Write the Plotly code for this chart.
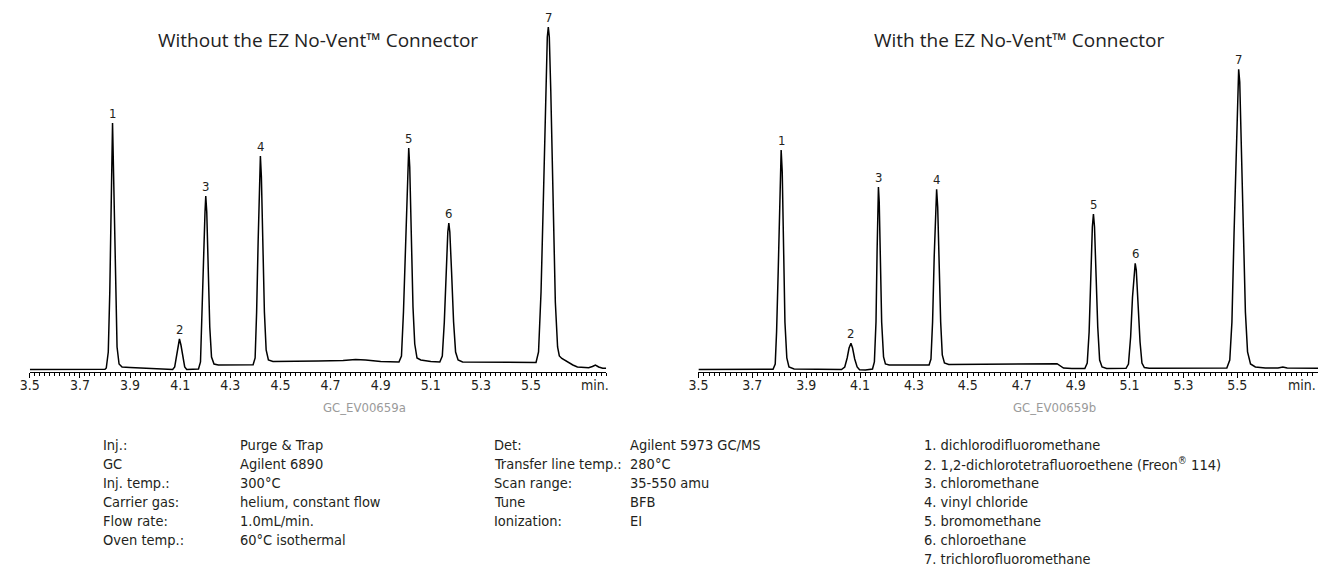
import plotly.graph_objects as go

# ---------------- data ----------------
# retention time (min) / detector signal (arbitrary units)
time_without = [3.500, 3.600, 3.700, 3.800,
    3.805, 3.813, 3.819, 3.824, 3.828, 3.830, 3.832, 3.837, 3.842, 3.848, 3.856, 3.868,
    3.900, 3.950, 4.000, 4.050, 4.070,
    4.078, 4.084, 4.090, 4.097, 4.103, 4.110, 4.118, 4.126, 4.150, 4.173,
    4.181, 4.187, 4.193, 4.199, 4.202, 4.206, 4.212, 4.218, 4.225, 4.235, 4.252,
    4.300, 4.350, 4.391,
    4.399, 4.405, 4.411, 4.417, 4.420, 4.424, 4.430, 4.436, 4.443, 4.452, 4.470,
    4.550, 4.650, 4.750, 4.800, 4.840, 4.900, 4.973,
    4.983, 4.991, 4.999, 5.007, 5.012, 5.016, 5.022, 5.029, 5.036, 5.045, 5.060, 5.100, 5.136,
    5.146, 5.154, 5.161, 5.168, 5.172, 5.176, 5.183, 5.191, 5.199, 5.209, 5.227,
    5.300, 5.400, 5.480, 5.520,
    5.530, 5.540, 5.550, 5.559, 5.565, 5.569, 5.573, 5.579, 5.588, 5.597, 5.606, 5.613,
    5.623, 5.639, 5.655, 5.667, 5.685, 5.706, 5.730, 5.745, 5.757, 5.770, 5.786, 5.800]
signal_without = [2.5, 2.5, 2.5, 2.8,
    4, 20, 80, 160, 220, 249, 225, 160, 80, 25, 8, 5,
    4.5, 4, 3.5, 2.8, 2.5,
    5, 14, 26, 33, 27, 15, 5, 2.5, 2.5, 3,
    10, 50, 110, 160, 176, 160, 100, 45, 15, 8, 7,
    7, 7, 7.2,
    14, 60, 130, 195, 216, 195, 130, 60, 22, 12, 10.5,
    11, 11, 11.5, 12.5, 12, 10.5, 10,
    16, 60, 130, 200, 224, 205, 135, 65, 28, 14, 12, 10.5, 10,
    16, 50, 100, 140, 149, 140, 100, 50, 20, 12, 10,
    9.8, 9.7, 9.5, 9.5,
    20, 80, 180, 290, 335, 345, 335, 280, 170, 70, 25, 16,
    13.5, 11, 8.5, 7, 5, 4.5, 4.3, 5.5, 7, 5, 3.7, 3.7]

time_with = [3.500, 3.600, 3.700, 3.777,
    3.785, 3.790, 3.796, 3.802, 3.807, 3.811, 3.816, 3.821, 3.828, 3.836, 3.855, 3.950, 4.031,
    4.043, 4.052, 4.059, 4.066, 4.072, 4.080, 4.089, 4.098, 4.120, 4.146,
    4.153, 4.159, 4.163, 4.166, 4.168, 4.171, 4.176, 4.180, 4.187, 4.194, 4.208, 4.300, 4.356,
    4.363, 4.369, 4.375, 4.380, 4.384, 4.388, 4.393, 4.399, 4.405, 4.413, 4.429,
    4.550, 4.650, 4.750, 4.800, 4.831, 4.855, 4.886, 4.934,
    4.943, 4.950, 4.956, 4.962, 4.966, 4.970, 4.976, 4.982, 4.989, 4.998, 5.015, 5.087,
    5.096, 5.104, 5.111, 5.118, 5.121, 5.125, 5.131, 5.139, 5.146, 5.155, 5.173,
    5.300, 5.400, 5.461,
    5.472, 5.480, 5.488, 5.498, 5.502, 5.505, 5.509, 5.514, 5.522, 5.530, 5.538, 5.549,
    5.567, 5.604, 5.651, 5.669, 5.685, 5.733, 5.7995]
signal_with = [2.5, 2.5, 2.5, 2.8,
    8, 40, 100, 180, 222, 200, 120, 50, 14, 5, 3, 2.8, 2.5,
    5, 14, 24, 28.7, 24, 13, 5, 2.2, 2, 3,
    10, 50, 120, 170, 185, 170, 110, 50, 15, 8, 7, 7, 7,
    13, 50, 115, 165, 182.7, 165, 110, 50, 17, 9, 7.5,
    7.7, 8, 8.3, 8.5, 8.3, 4, 3.5, 3.5,
    9, 40, 95, 145, 158, 145, 95, 45, 12, 5, 3.6, 3.7,
    8, 35, 75, 103, 108.7, 102, 70, 30, 9, 4.5, 3.7,
    3.7, 3.8, 4,
    12, 50, 140, 250, 290, 302.7, 290, 240, 150, 60, 20, 8,
    5, 4, 4, 5, 4, 3.7, 3.7]

peak_labels = ["1", "2", "3", "4", "5", "6", "7"]
peak_rt_without = [3.830, 4.097, 4.202, 4.420, 5.012, 5.172, 5.569]
peak_rt_with = [3.807, 4.066, 4.168, 4.384, 4.966, 5.121, 5.505]

tick_values = [3.5, 3.7, 3.9, 4.1, 4.3, 4.5, 4.7, 4.9, 5.1, 5.3, 5.5]
tick_labels = ["3.5", "3.7", "3.9", "4.1", "4.3", "4.5", "4.7", "4.9", "5.1", "5.3", "5.5"]
unit_label = "min."

title_without = "Without the EZ No-Vent™ Connector"
title_with = "With the EZ No-Vent™ Connector"
code_without = "GC_EV00659a"
code_with = "GC_EV00659b"

cond1_labels = ["Inj.:", "GC", "Inj. temp.:", "Carrier gas:", "Flow rate:", "Oven temp.:"]
cond1_values = ["Purge &amp; Trap", "Agilent 6890", "300°C", "helium, constant flow",
                "1.0mL/min.", "60°C isothermal"]
cond2_labels = ["Det:", "Transfer line temp.:", "Scan range:", "Tune", "Ionization:"]
cond2_values = ["Agilent 5973 GC/MS", "280°C", "35-550 amu", "BFB", "EI"]
compounds = ["dichlorodifluoromethane",
             "1,2-dichlorotetrafluoroethene (Freon<sup>®</sup> 114)",
             "chloromethane", "vinyl chloride", "bromomethane",
             "chloroethane", "trichlorofluoromethane"]

# ---------------- figure ----------------
W, H = 1318, 571
COND = "'Liberation Sans Narrow', 'DejaVu Sans Condensed', 'Arial Narrow', sans-serif"
TITLEF = "'Open Sans', 'Noto Sans', sans-serif"
INK = "#231f20"

fig = go.Figure()
fig.add_trace(go.Scatter(x=time_without, y=signal_without, mode="lines",
                         line=dict(color="black", width=1.5), xaxis="x", yaxis="y",
                         hoverinfo="skip"))
fig.add_trace(go.Scatter(x=time_with, y=signal_with, mode="lines",
                         line=dict(color="black", width=1.5), xaxis="x2", yaxis="y2",
                         hoverinfo="skip"))

def px_x(p):
    return p / W

def px_y(p):
    return 1 - p / H

axis_bottom = 372
axis_top = 20
ydom = [px_y(axis_bottom), px_y(axis_top)]
yrange = [0, axis_bottom - axis_top]

xcommon = dict(showline=True, linecolor="black", linewidth=1.2, showgrid=False,
               zeroline=False, tickmode="array", tickvals=tick_values, ticktext=tick_labels,
               ticks="outside", ticklen=4.5, tickwidth=1.1, tickcolor="black",
               ticklabelstandoff=-4,
               tickfont=dict(family=COND, size=14, color=INK),
               minor=dict(dtick=0.02, tick0=3.5, ticks="outside", ticklen=2.5,
                          tickwidth=1, tickcolor="black"),
               fixedrange=True)
xtenths = dict(showline=False, showgrid=False, zeroline=False, tickmode="linear",
               tick0=3.5, dtick=0.1, ticks="outside", ticklen=4.5, tickwidth=1.1,
               tickcolor="black", showticklabels=False, fixedrange=True)

left_px = 20
left_scale = 252.5
right_px = 693.7
right_scale = 271.5
xr_left = [3.5, 5.8]
xr_right = [3.5, 3.5 + (W - right_px) / right_scale]

fig.update_layout(
    width=W, height=H, margin=dict(l=0, r=0, t=0, b=0),
    paper_bgcolor="white", plot_bgcolor="white", showlegend=False,
    xaxis=dict(domain=[px_x(left_px), px_x(left_px + (xr_left[1] - xr_left[0]) * left_scale)],
               range=xr_left, anchor="y", **xcommon),
    xaxis2=dict(domain=[px_x(right_px), 1.0], range=xr_right, anchor="y2", **xcommon),
    xaxis3=dict(overlaying="x", anchor="y", range=xr_left, **xtenths),
    xaxis4=dict(overlaying="x2", anchor="y2", range=xr_right, **xtenths),
    yaxis=dict(domain=ydom, range=yrange, visible=False, fixedrange=True),
    yaxis2=dict(domain=ydom, range=yrange, visible=False, fixedrange=True, anchor="x2"),
)

ann = []
# peak numbers, positioned from the trace data
for times, sigs, rts, xa, ya in [(time_without, signal_without, peak_rt_without, "x", "y"),
                                 (time_with, signal_with, peak_rt_with, "x2", "y2")]:
    for lab, rt in zip(peak_labels, rts):
        i = min(range(len(times)), key=lambda k: abs(times[k] - rt))
        ann.append(dict(x=times[i], y=sigs[i], xref=xa, yref=ya, text=lab, showarrow=False,
                        yanchor="bottom", yshift=0, font=dict(family=COND, size=13, color=INK)))

# min. labels
ann.append(dict(x=5.757, y=0, xref="x", yref="y", text=unit_label, showarrow=False,
                yanchor="top", yshift=-3, font=dict(family=COND, size=14, color=INK)))
ann.append(dict(x=1.0, y=0, xref="paper", yref="y2", text=unit_label, showarrow=False,
                xanchor="right", yanchor="top", yshift=-3,
                font=dict(family=COND, size=14, color=INK)))

# titles
ann.append(dict(x=px_x(310), y=px_y(40), xref="paper", yref="paper", text=title_without,
                showarrow=False, xanchor="center", yanchor="middle",
                font=dict(family=TITLEF, size=19, color="#222")))
ann.append(dict(x=px_x(1017), y=px_y(40), xref="paper", yref="paper", text=title_with,
                showarrow=False, xanchor="center", yanchor="middle",
                font=dict(family=TITLEF, size=19, color="#222")))

# figure codes
ann.append(dict(x=px_x(357), y=px_y(408), xref="paper", yref="paper", text=code_without,
                showarrow=False, xanchor="center", yanchor="middle",
                font=dict(family=COND, size=13, color="#9a9a9a")))
ann.append(dict(x=px_x(1052), y=px_y(408), xref="paper", yref="paper", text=code_with,
                showarrow=False, xanchor="center", yanchor="middle",
                font=dict(family=COND, size=13, color="#9a9a9a")))

# conditions text block
line0 = 445
step = 19
def text_line(xp, row, txt):
    return dict(x=px_x(xp), y=px_y(line0 + row * step), xref="paper", yref="paper",
                text=txt, showarrow=False, xanchor="left", yanchor="middle",
                font=dict(family=COND, size=14.5, color=INK))

for r, (a, b) in enumerate(zip(cond1_labels, cond1_values)):
    ann.append(text_line(92, r, a))
    ann.append(text_line(230, r, b))
for r, (a, b) in enumerate(zip(cond2_labels, cond2_values)):
    ann.append(text_line(486, r, a))
    ann.append(text_line(623, r, b))
for r, c in enumerate(compounds):
    ann.append(text_line(919, r, f"{r + 1}. {c}"))

fig.update_layout(annotations=ann)
fig.write_html("out.html", config={"displayModeBar": False},
               post_script="document.body.style.margin='0px';")
